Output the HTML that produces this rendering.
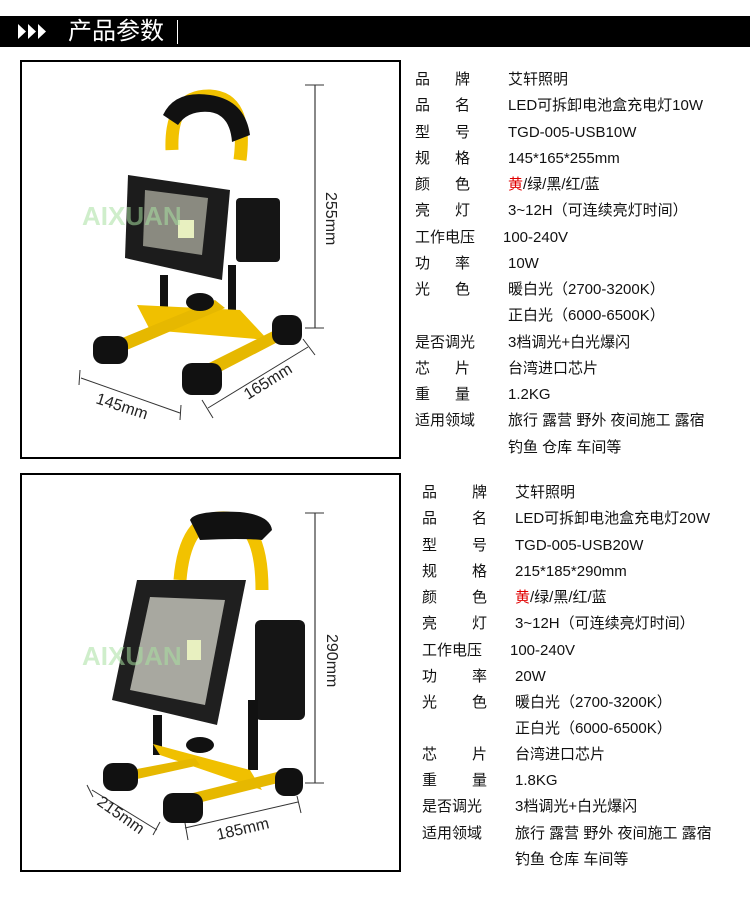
<!DOCTYPE html>
<html><head><meta charset="utf-8"><style>
body{margin:0;width:750px;height:900px;background:#fff;position:relative;overflow:hidden;font-family:"Liberation Sans","Noto Sans CJK SC",sans-serif;color:#111}
.hdr{position:absolute;left:0;top:16px;width:750px;height:31px;background:#000}
.hdr .t{position:absolute;left:68px;top:1px;color:#fff;font-size:24px;line-height:29px}
.hdr .bar{position:absolute;left:177px;top:4px;width:1px;height:24px;background:#fff}
.box{position:absolute;left:20px;width:377px;border:2px solid #000}
.r{position:absolute;font-size:15px;line-height:18px;white-space:nowrap}
.y{color:#e00000}
svg{position:absolute;left:0;top:0}
</style></head><body>
<div class="hdr"><svg width="60" height="31"><polygon points="18,8 26,15.5 18,23" fill="#fff"/><polygon points="28,8 36,15.5 28,23" fill="#fff"/><polygon points="38,8 46,15.5 38,23" fill="#fff"/></svg><div class="t">产品参数</div><div class="bar"></div></div>
<div class="box" style="top:60px;height:395px"></div>
<div class="box" style="top:473px;height:395px"></div>
<svg width="750" height="900">
<g>
<path d="M172,150 Q170,95 210,96 Q248,98 240,160" fill="none" stroke="#f2c200" stroke-width="13"/>
<path d="M163,115 Q175,90 210,95 Q245,100 250,135 L232,142 Q230,115 210,112 Q188,110 178,125 Z" fill="#111"/>
<rect x="236" y="198" width="44" height="64" rx="4" fill="#151515"/>
<polygon points="128,175 230,190 222,280 125,258" fill="#1c1c1c"/>
<polygon points="145,190 208,198 202,255 143,246" fill="#8a8a80"/>
<rect x="178" y="220" width="16" height="18" fill="#e8f0c0"/>
<rect x="160" y="275" width="8" height="35" fill="#111"/><rect x="228" y="265" width="8" height="45" fill="#111"/>
<polygon points="137,305 240,310 268,340 150,330" fill="#f0c000"/>
<polygon points="105,345 215,300 225,308 115,355" fill="#e6b800"/>
<polygon points="185,375 285,325 295,333 195,385" fill="#e6b800"/>
<ellipse cx="200" cy="302" rx="14" ry="9" fill="#111"/>
<rect x="93" y="336" width="35" height="28" rx="10" fill="#111"/>
<rect x="182" y="363" width="40" height="32" rx="10" fill="#111"/>
<rect x="272" y="315" width="30" height="30" rx="10" fill="#111"/>
<text x="82" y="225" font-size="26" font-weight="bold" fill="#a8e0a0" fill-opacity="0.55" font-family="Liberation Sans,sans-serif">AIXUAN</text>
</g>
<g stroke="#333" stroke-width="1" fill="none">
<line x1="315" y1="85" x2="315" y2="328" stroke="#888" stroke-width="2"/><line x1="305" y1="85" x2="324" y2="85"/><line x1="305" y1="328" x2="324" y2="328"/>
<line x1="81" y1="378" x2="180" y2="413"/><line x1="80" y1="370" x2="79" y2="385"/><line x1="181" y1="405" x2="180" y2="420"/>
<line x1="208" y1="408" x2="308" y2="347"/><line x1="202" y1="400" x2="213" y2="418"/><line x1="303" y1="339" x2="315" y2="355"/>
</g>
<text x="326" y="192" font-size="16" fill="#222" transform="rotate(90 326 192)">255mm</text>
<text x="95" y="403" font-size="16" fill="#222" transform="rotate(18 95 403)">145mm</text>
<text x="248" y="400" font-size="16" fill="#222" transform="rotate(-32 248 400)">165mm</text>
<g>
<path d="M180,580 Q185,520 220,518 Q262,515 262,590" fill="none" stroke="#f2c200" stroke-width="13"/>
<path d="M190,520 Q195,510 240,512 Q270,515 272,530 L262,540 Q240,538 200,540 Z" fill="#111"/>
<rect x="255" y="620" width="50" height="100" rx="6" fill="#151515"/>
<polygon points="137,580 246,580 217,725 112,700" fill="#1f1f1f"/>
<polygon points="150,597 225,600 205,705 130,690" fill="#a8a8a0"/>
<rect x="187" y="640" width="14" height="20" fill="#e8f0c0"/>
<rect x="153" y="715" width="9" height="40" fill="#111"/><rect x="248" y="700" width="10" height="70" fill="#111"/>
<polygon points="153,744 250,770 262,790 160,755" fill="#f0c000"/>
<polygon points="105,775 195,758 200,765 110,785" fill="#e6b800"/>
<polygon points="165,800 285,770 290,780 170,810" fill="#e6b800"/>
<rect x="103" y="763" width="35" height="28" rx="10" fill="#111"/>
<rect x="163" y="793" width="40" height="30" rx="10" fill="#111"/>
<rect x="275" y="768" width="28" height="28" rx="10" fill="#111"/>
<ellipse cx="200" cy="745" rx="14" ry="8" fill="#111"/>
<text x="82" y="665" font-size="26" font-weight="bold" fill="#a8e0a0" fill-opacity="0.55" font-family="Liberation Sans,sans-serif">AIXUAN</text>
</g>
<g stroke="#333" stroke-width="1" fill="none">
<line x1="315" y1="513" x2="315" y2="783" stroke="#888" stroke-width="2"/><line x1="305" y1="513" x2="324" y2="513"/><line x1="305" y1="783" x2="324" y2="783"/>
<line x1="92" y1="790" x2="157" y2="830"/><line x1="87" y1="785" x2="93" y2="797"/><line x1="153" y1="835" x2="160" y2="822"/>
<line x1="185" y1="828" x2="298" y2="802"/><line x1="185" y1="823" x2="188" y2="840"/><line x1="297" y1="796" x2="301" y2="813"/>
</g>
<text x="327" y="634" font-size="16" fill="#222" transform="rotate(90 327 634)">290mm</text>
<text x="96" y="804" font-size="16" fill="#222" transform="rotate(35 96 804)">215mm</text>
<text x="218" y="840" font-size="16" fill="#222" transform="rotate(-13 218 840)">185mm</text>
</svg>
<div class="r" style="left:415px;top:71px">品</div><div class="r" style="left:455px;top:71px">牌</div><div class="r" style="left:508px;top:71px">艾轩照明</div>
<div class="r" style="left:415px;top:97px">品</div><div class="r" style="left:455px;top:97px">名</div><div class="r" style="left:508px;top:97px">LED可拆卸电池盒充电灯10W</div>
<div class="r" style="left:415px;top:124px">型</div><div class="r" style="left:455px;top:124px">号</div><div class="r" style="left:508px;top:124px">TGD-005-USB10W</div>
<div class="r" style="left:415px;top:150px">规</div><div class="r" style="left:455px;top:150px">格</div><div class="r" style="left:508px;top:150px">145*165*255mm</div>
<div class="r" style="left:415px;top:176px">颜</div><div class="r" style="left:455px;top:176px">色</div><div class="r" style="left:508px;top:176px"><span class="y">黄</span>/绿/黑/红/蓝</div>
<div class="r" style="left:415px;top:202px">亮</div><div class="r" style="left:455px;top:202px">灯</div><div class="r" style="left:508px;top:202px">3~12H（可连续亮灯时间）</div>
<div class="r" style="left:415px;top:229px">工作电压</div><div class="r" style="left:503px;top:229px">100-240V</div>
<div class="r" style="left:415px;top:255px">功</div><div class="r" style="left:455px;top:255px">率</div><div class="r" style="left:508px;top:255px">10W</div>
<div class="r" style="left:415px;top:281px">光</div><div class="r" style="left:455px;top:281px">色</div><div class="r" style="left:508px;top:281px">暖白光（2700-3200K）</div>
<div class="r" style="left:508px;top:307px">正白光（6000-6500K）</div>
<div class="r" style="left:415px;top:334px">是否调光</div><div class="r" style="left:508px;top:334px">3档调光+白光爆闪</div>
<div class="r" style="left:415px;top:360px">芯</div><div class="r" style="left:455px;top:360px">片</div><div class="r" style="left:508px;top:360px">台湾进口芯片</div>
<div class="r" style="left:415px;top:386px">重</div><div class="r" style="left:455px;top:386px">量</div><div class="r" style="left:508px;top:386px">1.2KG</div>
<div class="r" style="left:415px;top:412px">适用领域</div><div class="r" style="left:508px;top:412px">旅行 露营 野外 夜间施工 露宿</div>
<div class="r" style="left:508px;top:439px">钓鱼 仓库 车间等</div>

<div class="r" style="left:422px;top:484px">品</div><div class="r" style="left:472px;top:484px">牌</div><div class="r" style="left:515px;top:484px">艾轩照明</div>
<div class="r" style="left:422px;top:510px">品</div><div class="r" style="left:472px;top:510px">名</div><div class="r" style="left:515px;top:510px">LED可拆卸电池盒充电灯20W</div>
<div class="r" style="left:422px;top:537px">型</div><div class="r" style="left:472px;top:537px">号</div><div class="r" style="left:515px;top:537px">TGD-005-USB20W</div>
<div class="r" style="left:422px;top:563px">规</div><div class="r" style="left:472px;top:563px">格</div><div class="r" style="left:515px;top:563px">215*185*290mm</div>
<div class="r" style="left:422px;top:589px">颜</div><div class="r" style="left:472px;top:589px">色</div><div class="r" style="left:515px;top:589px"><span class="y">黄</span>/绿/黑/红/蓝</div>
<div class="r" style="left:422px;top:615px">亮</div><div class="r" style="left:472px;top:615px">灯</div><div class="r" style="left:515px;top:615px">3~12H（可连续亮灯时间）</div>
<div class="r" style="left:422px;top:642px">工作电压</div><div class="r" style="left:510px;top:642px">100-240V</div>
<div class="r" style="left:422px;top:668px">功</div><div class="r" style="left:472px;top:668px">率</div><div class="r" style="left:515px;top:668px">20W</div>
<div class="r" style="left:422px;top:694px">光</div><div class="r" style="left:472px;top:694px">色</div><div class="r" style="left:515px;top:694px">暖白光（2700-3200K）</div>
<div class="r" style="left:515px;top:720px">正白光（6000-6500K）</div>
<div class="r" style="left:422px;top:746px">芯</div><div class="r" style="left:472px;top:746px">片</div><div class="r" style="left:515px;top:746px">台湾进口芯片</div>
<div class="r" style="left:422px;top:772px">重</div><div class="r" style="left:472px;top:772px">量</div><div class="r" style="left:515px;top:772px">1.8KG</div>
<div class="r" style="left:422px;top:798px">是否调光</div><div class="r" style="left:515px;top:798px">3档调光+白光爆闪</div>
<div class="r" style="left:422px;top:825px">适用领域</div><div class="r" style="left:515px;top:825px">旅行 露营 野外 夜间施工 露宿</div>
<div class="r" style="left:515px;top:851px">钓鱼 仓库 车间等</div>
</body></html>
